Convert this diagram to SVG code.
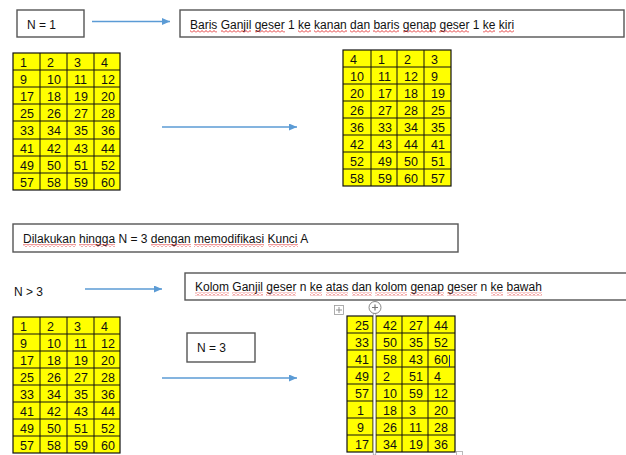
<svg xmlns="http://www.w3.org/2000/svg" width="626" height="455" viewBox="0 0 626 455">
<style>
  text { font-family: "Liberation Sans", Arial, sans-serif; fill: #111; }
  .lbl { font-size: 12px; }
  .num { font-size: 12.5px; }
  .box { fill: #fff; stroke: #555; stroke-width: 1.4; }
  .bg { fill: #ffff00; stroke: #111; stroke-width: 1.2; }
  .gl { fill: none; stroke: #111; stroke-width: 1; }
  .arr { stroke: #5b9bd5; stroke-width: 1.3; fill: none; marker-end: url(#ah); }
  .sq { fill: url(#wave); }
</style>
<defs>
  <marker id="ah" markerWidth="8" markerHeight="7" refX="8" refY="3.5" orient="auto" markerUnits="userSpaceOnUse">
    <path d="M0,0 L8,3.5 L0,7 z" fill="#5b9bd5"/>
  </marker>
  <pattern id="wave" width="4" height="3" patternUnits="userSpaceOnUse">
    <path d="M0,2.5 L2,0.5 L4,2.5" fill="none" stroke="#e02020" stroke-width="0.9"/>
  </pattern>
</defs>
<rect width="626" height="455" fill="#fff"/>

<g id="n1">
  <rect class="box" x="17" y="10" width="67" height="27"/>
  <text class="lbl" x="27" y="28.5">N = 1</text>
</g>

<g id="rule1">
  <rect class="box" x="180" y="10" width="444" height="27"/>
  <text class="lbl" x="190" y="28.5">Baris Ganjil geser 1 ke kanan dan baris genap geser 1 ke kiri</text>
  <rect class="sq" x="190" y="30" width="27" height="3"/>
  <rect class="sq" x="221" y="30" width="30" height="3"/>
  <rect class="sq" x="255" y="30" width="30" height="3"/>
  <rect class="sq" x="298" y="30" width="13" height="3"/>
  <rect class="sq" x="314" y="30" width="33" height="3"/>
  <rect class="sq" x="350" y="30" width="20" height="3"/>
  <rect class="sq" x="373" y="30" width="26" height="3"/>
  <rect class="sq" x="403" y="30" width="33" height="3"/>
  <rect class="sq" x="439" y="30" width="30" height="3"/>
  <rect class="sq" x="483" y="30" width="12" height="3"/>
  <rect class="sq" x="499" y="30" width="15" height="3"/>
</g>

<g id="table1">
  <rect class="bg" x="13" y="53" width="107" height="137"/>
  <path class="gl" d="M40,53V190M67,53V190M94,53V190M13,70H120M13,87H120M13,104H120M13,121H120M13,139H120M13,156H120M13,173H120"/>
  <g class="num">
    <text class="num" y="66.5"><tspan x="20">1</tspan><tspan x="47">2</tspan><tspan x="74">3</tspan><tspan x="101">4</tspan></text>
    <text class="num" y="83.5"><tspan x="20">9</tspan><tspan x="47">10</tspan><tspan x="74">11</tspan><tspan x="101">12</tspan></text>
    <text class="num" y="100.5"><tspan x="20">17</tspan><tspan x="47">18</tspan><tspan x="74">19</tspan><tspan x="101">20</tspan></text>
    <text class="num" y="117.5"><tspan x="20">25</tspan><tspan x="47">26</tspan><tspan x="74">27</tspan><tspan x="101">28</tspan></text>
    <text class="num" y="135"><tspan x="20">33</tspan><tspan x="47">34</tspan><tspan x="74">35</tspan><tspan x="101">36</tspan></text>
    <text class="num" y="152.5"><tspan x="20">41</tspan><tspan x="47">42</tspan><tspan x="74">43</tspan><tspan x="101">44</tspan></text>
    <text class="num" y="169.5"><tspan x="20">49</tspan><tspan x="47">50</tspan><tspan x="74">51</tspan><tspan x="101">52</tspan></text>
    <text class="num" y="186.5"><tspan x="20">57</tspan><tspan x="47">58</tspan><tspan x="74">59</tspan><tspan x="101">60</tspan></text>
  </g>
</g>

<g id="table2">
  <rect class="bg" x="343" y="50" width="108" height="136"/>
  <path class="gl" d="M371,50V186M397,50V186M424,50V186M343,67H451M343,84H451M343,101H451M343,118H451M343,135H451M343,152H451M343,169H451"/>
  <text class="num" y="63.5"><tspan x="350">4</tspan><tspan x="378">1</tspan><tspan x="404">2</tspan><tspan x="431">3</tspan></text>
  <text class="num" y="80.5"><tspan x="350">10</tspan><tspan x="378">11</tspan><tspan x="404">12</tspan><tspan x="431">9</tspan></text>
  <text class="num" y="97.5"><tspan x="350">20</tspan><tspan x="378">17</tspan><tspan x="404">18</tspan><tspan x="431">19</tspan></text>
  <text class="num" y="114.5"><tspan x="350">26</tspan><tspan x="378">27</tspan><tspan x="404">28</tspan><tspan x="431">25</tspan></text>
  <text class="num" y="131.5"><tspan x="350">36</tspan><tspan x="378">33</tspan><tspan x="404">34</tspan><tspan x="431">35</tspan></text>
  <text class="num" y="148.5"><tspan x="350">42</tspan><tspan x="378">43</tspan><tspan x="404">44</tspan><tspan x="431">41</tspan></text>
  <text class="num" y="165.5"><tspan x="350">52</tspan><tspan x="378">49</tspan><tspan x="404">50</tspan><tspan x="431">51</tspan></text>
  <text class="num" y="182.5"><tspan x="350">58</tspan><tspan x="378">59</tspan><tspan x="404">60</tspan><tspan x="431">57</tspan></text>
</g>

<g id="note">
  <rect class="box" x="13" y="224" width="445" height="28"/>
  <text class="lbl" x="23" y="242.5">Dilakukan hingga N = 3 dengan memodifikasi Kunci A</text>
  <rect class="sq" x="23" y="244" width="53" height="3"/>
  <rect class="sq" x="79" y="244" width="36" height="3"/>
  <rect class="sq" x="151" y="244" width="40" height="3"/>
  <rect class="sq" x="194" y="244" width="70" height="3"/>
  <rect class="sq" x="268" y="244" width="30" height="3"/>
</g>

<g id="n3plus">
  <text class="lbl" x="14" y="296">N &gt; 3</text>
</g>

<g id="rule2">
  <rect class="box" x="185" y="273" width="445" height="27"/>
  <text class="lbl" x="195" y="291">Kolom Ganjil geser n ke atas dan kolom genap geser n ke bawah</text>
  <rect class="sq" x="195" y="292.5" width="34" height="3"/>
  <rect class="sq" x="232" y="292.5" width="31" height="3"/>
  <rect class="sq" x="266" y="292.5" width="30" height="3"/>
  <rect class="sq" x="310" y="292.5" width="12" height="3"/>
  <rect class="sq" x="326" y="292.5" width="22" height="3"/>
  <rect class="sq" x="352" y="292.5" width="20" height="3"/>
  <rect class="sq" x="375" y="292.5" width="32" height="3"/>
  <rect class="sq" x="410" y="292.5" width="34" height="3"/>
  <rect class="sq" x="447" y="292.5" width="30" height="3"/>
  <rect class="sq" x="491" y="292.5" width="12" height="3"/>
  <rect class="sq" x="507" y="292.5" width="35" height="3"/>
</g>

<g id="table3">
  <rect class="bg" x="13" y="317" width="107" height="136"/>
  <path class="gl" d="M40,317V453M67,317V453M94,317V453M13,334H120M13,351H120M13,368H120M13,385H120M13,402H120M13,419H120M13,436H120"/>
  <text class="num" y="330.5"><tspan x="20">1</tspan><tspan x="47">2</tspan><tspan x="74">3</tspan><tspan x="101">4</tspan></text>
  <text class="num" y="347.5"><tspan x="20">9</tspan><tspan x="47">10</tspan><tspan x="74">11</tspan><tspan x="101">12</tspan></text>
  <text class="num" y="364.5"><tspan x="20">17</tspan><tspan x="47">18</tspan><tspan x="74">19</tspan><tspan x="101">20</tspan></text>
  <text class="num" y="381.5"><tspan x="20">25</tspan><tspan x="47">26</tspan><tspan x="74">27</tspan><tspan x="101">28</tspan></text>
  <text class="num" y="398.5"><tspan x="20">33</tspan><tspan x="47">34</tspan><tspan x="74">35</tspan><tspan x="101">36</tspan></text>
  <text class="num" y="415.5"><tspan x="20">41</tspan><tspan x="47">42</tspan><tspan x="74">43</tspan><tspan x="101">44</tspan></text>
  <text class="num" y="432.5"><tspan x="20">49</tspan><tspan x="47">50</tspan><tspan x="74">51</tspan><tspan x="101">52</tspan></text>
  <text class="num" y="449.5"><tspan x="20">57</tspan><tspan x="47">58</tspan><tspan x="74">59</tspan><tspan x="101">60</tspan></text>
</g>

<g id="n3">
  <rect class="box" x="187" y="333" width="68" height="29"/>
  <text class="lbl" x="197" y="352">N = 3</text>
</g>

<g id="table4">
  <rect class="bg" x="347" y="316" width="108" height="136"/>
  <path class="gl" d="M373,316V452M376,316V452M402,316V452M428,316V452M347,333H455M347,350H455M347,367H455M347,384H455M347,401H455M347,418H455M347,435H455"/>
  <text class="num" y="329.5"><tspan x="355">25</tspan><tspan x="383">42</tspan><tspan x="409">27</tspan><tspan x="434">44</tspan></text>
  <text class="num" y="346.5"><tspan x="355">33</tspan><tspan x="383">50</tspan><tspan x="409">35</tspan><tspan x="434">52</tspan></text>
  <text class="num" y="363.5"><tspan x="355">41</tspan><tspan x="383">58</tspan><tspan x="409">43</tspan><tspan x="434">60</tspan></text>
  <text class="num" y="380.5"><tspan x="355">49</tspan><tspan x="383">2</tspan><tspan x="409">51</tspan><tspan x="434">4</tspan></text>
  <text class="num" y="397.5"><tspan x="355">57</tspan><tspan x="383">10</tspan><tspan x="409">59</tspan><tspan x="434">12</tspan></text>
  <text class="num" y="414.5"><tspan x="357">1</tspan><tspan x="383">18</tspan><tspan x="409">3</tspan><tspan x="434">20</tspan></text>
  <text class="num" y="431.5"><tspan x="357">9</tspan><tspan x="383">26</tspan><tspan x="409">11</tspan><tspan x="434">28</tspan></text>
  <text class="num" y="448.5"><tspan x="355">17</tspan><tspan x="383">34</tspan><tspan x="409">19</tspan><tspan x="434">36</tspan></text>
  <!-- editor artifacts -->
  <rect x="373.2" y="313" width="2.6" height="142" fill="#fff" stroke="#888" stroke-width="0.6"/>
  <circle cx="375" cy="307.5" r="6" fill="#fff" stroke="#888" stroke-width="1"/>
  <path d="M375,304.5V310.5M372,307.5H378" stroke="#777" stroke-width="1.2"/>
  <rect x="334.5" y="305.5" width="9" height="9" fill="#fff" stroke="#999" stroke-width="0.8"/>
  <path d="M339,307V313M336,310H342" stroke="#777" stroke-width="0.8"/>
  <path d="M449.5,355V367" stroke="#223388" stroke-width="1"/>
  <rect x="456.5" y="451.5" width="6" height="6" fill="#fff" stroke="#aaa" stroke-width="0.8"/>
</g>

<g id="connectors">
  <line class="arr" x1="92" y1="21.5" x2="170" y2="21.5"/>
  <line class="arr" x1="162" y1="127" x2="297" y2="127"/>
  <line class="arr" x1="85" y1="289" x2="162" y2="289"/>
  <line class="arr" x1="162" y1="378" x2="297" y2="378"/>
</g>
</svg>
